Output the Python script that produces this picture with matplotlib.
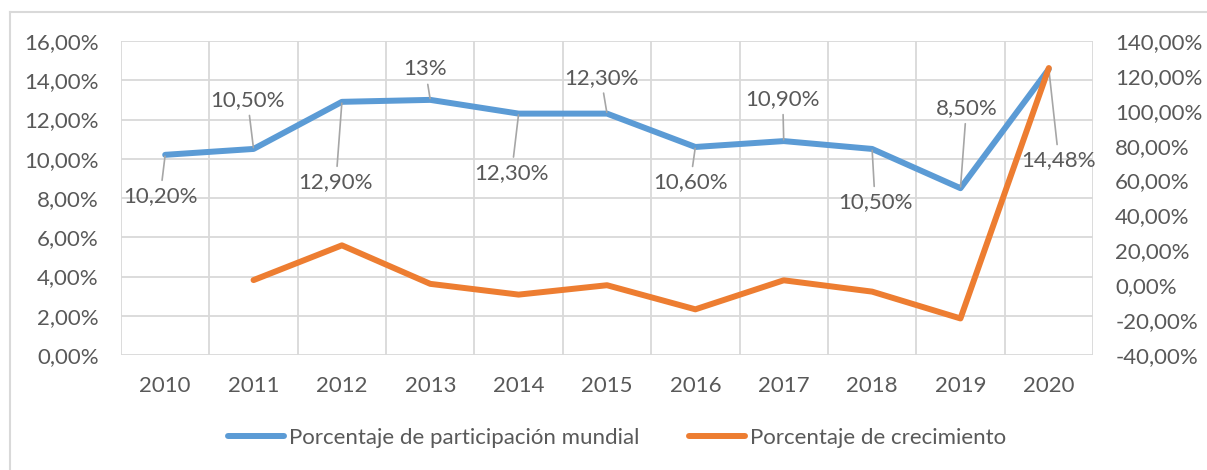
import matplotlib.pyplot as plt
from matplotlib.lines import Line2D

# Data
years = ["2010", "2011", "2012", "2013", "2014", "2015", "2016", "2017", "2018", "2019", "2020"]
participacion = [10.2, 10.5, 12.9, 13.0, 12.3, 12.3, 10.6, 10.9, 10.5, 8.5, 14.57]
participacion_labels = ["10,20%", "10,50%", "12,90%", "13%", "12,30%", "12,30%",
                        "10,60%", "10,90%", "10,50%", "8,50%", "14,48%"]
crecimiento_years = years[1:]
crecimiento = [2.94, 22.86, 0.78, -5.38, 0.0, -13.82, 2.83, -3.67, -19.05, 124.5]

left_ticks = [0, 2, 4, 6, 8, 10, 12, 14, 16]
right_ticks = [-40, -20, 0, 20, 40, 60, 80, 100, 120, 140]

# label offsets in pixels (dx, dy) from each blue point
label_offsets = [(-5, -41), (-6, 49), (-6, -80), (-5, 31), (-7, -59), (-6, 36),
                 (-5, -35), (-1, 42), (3, -53), (6, 80), (10, -91)]

BLUE = "#5B9BD5"
ORANGE = "#ED7D31"
GRID = "#D9D9D9"
TEXT = "#595959"

plt.rcParams['font.family'] = ['Lato', 'DejaVu Sans']
fs = 16

W, H = 1207, 470
fig = plt.figure(figsize=(W / 100, H / 100), dpi=100)
ax = fig.add_axes([121 / W, 1 - 355 / H, (1093 - 121) / W, (355 - 41) / H])
ax2 = ax.twinx()

x = list(range(len(years)))
x2 = x[1:]

ax.plot(x, participacion, color=BLUE, lw=4.3, solid_capstyle='round', zorder=3)
ax2.plot(x2, crecimiento, color=ORANGE, lw=4.3, solid_capstyle='round', zorder=3)

ax.set_xlim(-0.5, len(years) - 0.5)
ax.set_ylim(0, 16)
ax2.set_ylim(-40, 140)

ax.set_xticks(x)
ax.set_xticklabels(years)
ax.set_xticks([i - 0.5 for i in range(len(years) + 1)], minor=True)
ax.set_yticks(left_ticks)
ax.set_yticklabels([f"{v:.2f}".replace(".", ",") + "%" for v in left_ticks])
ax2.set_yticks(right_ticks)
ax2.set_yticklabels([f"{v:.2f}".replace(".", ",") + "%" for v in right_ticks])

ax.grid(True, which='minor', axis='x', color=GRID, lw=1.3)
ax.grid(True, which='major', axis='y', color=GRID, lw=1.3)
ax.set_axisbelow(True)
for a in (ax, ax2):
    for s in a.spines.values():
        s.set_visible(False)
ax.tick_params(axis='both', which='both', length=0, labelsize=fs, colors=TEXT)
ax.tick_params(axis='y', pad=16)
ax.tick_params(axis='x', pad=15)
ax2.tick_params(axis='y', length=0, labelsize=fs, colors=TEXT, pad=16)

# data labels with leader lines
for xi, yi, lab, (dx, dy) in zip(x, participacion, participacion_labels, label_offsets):
    ax.annotate(lab, xy=(xi, yi), xytext=(dx, dy), textcoords='offset pixels',
                ha='center', va='center', fontsize=fs, color=TEXT, zorder=5,
                arrowprops=dict(arrowstyle='-', color='#A6A6A6', lw=1.2,
                                shrinkA=2, shrinkB=1))

handles = [Line2D([], [], color=BLUE, lw=4.3, solid_capstyle='round'),
           Line2D([], [], color=ORANGE, lw=4.3, solid_capstyle='round')]
fig.legend(handles, ["Porcentaje de participación mundial", "Porcentaje de crecimiento"],
           loc='center', bbox_to_anchor=(617 / W, 1 - 438 / H), ncol=2, frameon=False,
           fontsize=fs, labelcolor=TEXT, handlelength=2.5, handletextpad=0.22,
           columnspacing=2.25)

# chart area border (only left and top visible in the reference)
fig.add_artist(Line2D([10 / W, 10 / W], [0, 1 - 12 / H], color=GRID, lw=1.5))
fig.add_artist(Line2D([10 / W, 1], [1 - 12 / H, 1 - 12 / H], color=GRID, lw=1.5))

plt.savefig('out.png', dpi=100)
